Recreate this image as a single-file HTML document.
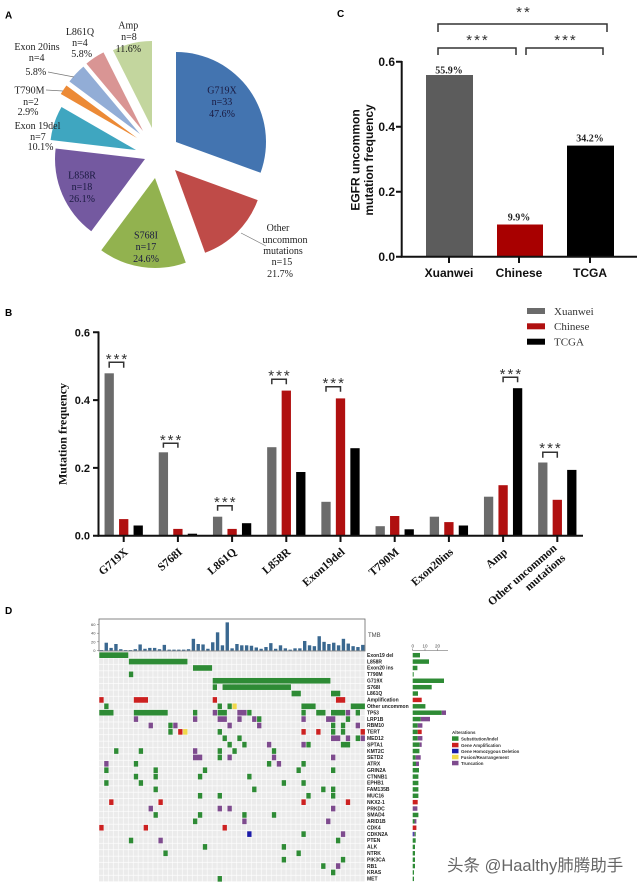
<!DOCTYPE html>
<html><head><meta charset="utf-8"><style>
html,body{margin:0;padding:0;background:#fff;}
svg{display:block;}
.sans{font-family:"Liberation Sans",sans-serif;}
.serif{font-family:"Liberation Serif",serif;}
.g{fill:#2e8b35}.r{fill:#cc2020}.p{fill:#7e4b8e}.y{fill:#f0d84a}.b{fill:#1b1ba8}
.rl{font-family:"Liberation Sans",sans-serif;font-size:5px;font-weight:bold;fill:#222;}
</style></head><body>
<svg width="640" height="886" viewBox="0 0 640 886" xmlns="http://www.w3.org/2000/svg">
<rect width="640" height="886" fill="#fff"/>

<!-- ============ PANEL A : PIE ============ -->
<text class="sans" x="5" y="18.5" font-size="10" font-weight="bold">A</text>
<path d="M176,142 L176,52 A90,90 0 0 1 260.57,172.78 Z" fill="#4374b0"/>
<path d="M175,170 L257.69,200.10 A88,88 0 0 1 205.10,252.69 Z" fill="#bf4b48"/>
<path d="M155,178 L185.78,262.57 A90,90 0 0 1 101.25,250.19 Z" fill="#92b24f"/>
<path d="M145,159 L91.25,231.19 A90,90 0 0 1 55.61,148.55 Z" fill="#7459a0"/>
<path d="M136,150 L50.6,140 A86,86 0 0 1 61.5,107 Z" fill="#3fa6c0"/>
<path d="M137,138 L60.79,94 A88,88 0 0 1 66.42,85.45 Z" fill="#ec8a36"/>
<path d="M140,134 L69.42,81.45 A88,88 0 0 1 83.43,66.59 Z" fill="#92add6"/>
<path d="M143,131 L86.43,63.59 A88,88 0 0 1 103.51,52.36 Z" fill="#d99594"/>
<path d="M152,128 L112.95,50.26 A87,87 0 0 1 152,41 Z" fill="#c3d69e"/>
<line x1="46" y1="90" x2="63" y2="91" stroke="#777" stroke-width="0.7"/>
<line x1="48" y1="72" x2="74" y2="77" stroke="#777" stroke-width="0.7"/>
<line x1="241" y1="233" x2="266" y2="246" stroke="#777" stroke-width="0.7"/>
<g class="serif" font-size="10" text-anchor="middle" fill="#1a1a40">
<text x="222" y="93.5">G719X</text><text x="222" y="105.2">n=33</text><text x="222" y="116.8">47.6%</text>
<text x="146" y="238.5">S768I</text><text x="146" y="250.2">n=17</text><text x="146" y="261.8">24.6%</text>
<text x="82" y="178.5">L858R</text><text x="82" y="190.2">n=18</text><text x="82" y="201.8">26.1%</text>
</g>
<g class="serif" font-size="10" text-anchor="middle" fill="#222">
<text x="278" y="231.2">Other</text><text x="285" y="242.8">uncommon</text><text x="283" y="254.2">mutations</text><text x="282" y="265.2">n=15</text><text x="280" y="276.8">21.7%</text>
<text x="37.5" y="129.2">Exon 19del</text><text x="38" y="140.2">n=7</text><text x="40.5" y="150.2">10.1%</text>
<text x="29.5" y="93.5">T790M</text><text x="31" y="105.2">n=2</text><text x="28" y="115.2">2.9%</text>
<text x="37" y="50.2">Exon 20ins</text><text x="36.7" y="60.8">n=4</text><text x="35.8" y="75.2">5.8%</text>
<text x="80" y="35.2">L861Q</text><text x="80" y="46.2">n=4</text><text x="81.7" y="56.8">5.8%</text>
<text x="128.3" y="28.5">Amp</text><text x="129" y="40.2">n=8</text><text x="128.3" y="51.8">11.6%</text>
</g>

<!-- ============ PANEL C ============ -->
<text class="sans" x="337" y="17" font-size="10" font-weight="bold">C</text>
<g fill="none" stroke="#333" stroke-width="1.5">
<path d="M438,32 V24 H607 V32"/>
<path d="M438,55 V48 H516 V55"/>
<path d="M526,55 V48 H603 V55"/>
</g>
<g class="sans" font-size="15" text-anchor="middle" fill="#333" letter-spacing="2">
<text x="524" y="16.8">**</text>
<text x="478" y="44.8">***</text>
<text x="566" y="44.8">***</text>
</g>
<rect x="426" y="75" width="47" height="181.7" fill="#5c5c5c"/>
<rect x="497" y="224.5" width="46" height="32.2" fill="#a80000"/>
<rect x="567" y="145.6" width="47" height="111.1" fill="#000"/>
<g stroke="#111" stroke-width="2" fill="none">
<path d="M401.7,61 V257.5"/>
<path d="M400.7,256.7 H637"/>
<path d="M396,61.7 H402 M396,126.7 H402 M396,191.7 H402 M396,256.7 H402"/>
<path d="M449,256.7 V263 M519,256.7 V263 M590,256.7 V263"/>
</g>
<g class="sans" font-size="12" font-weight="bold" text-anchor="end" fill="#111">
<text x="395" y="66">0.6</text><text x="395" y="131">0.4</text><text x="395" y="196">0.2</text><text x="395" y="261">0.0</text>
</g>
<g class="sans" font-size="12" font-weight="bold" text-anchor="middle" fill="#111">
<text x="449" y="277">Xuanwei</text><text x="519" y="277">Chinese</text><text x="590" y="277">TCGA</text>
<text transform="translate(359.5,160) rotate(-90)">EGFR uncommon</text>
<text transform="translate(373,160) rotate(-90)">mutation frequency</text>
</g>
<g class="serif" font-size="10" font-weight="bold" text-anchor="middle" fill="#222">
<text x="449" y="73.5">55.9%</text><text x="519" y="220.5">9.9%</text><text x="590" y="141.5">34.2%</text>
</g>

<!-- ============ PANEL B ============ -->
<text class="sans" x="5" y="316" font-size="10" font-weight="bold">B</text>
<rect x="527" y="308" width="18" height="6" fill="#6b6b6b"/>
<rect x="527" y="323.3" width="18" height="6" fill="#b01010"/>
<rect x="527" y="338.7" width="18" height="6" fill="#000"/>
<g class="serif" font-size="11" fill="#333">
<text x="554" y="314.8">Xuanwei</text><text x="554" y="330.1">Chinese</text><text x="554" y="345.5">TCGA</text>
</g>
<g fill="#6b6b6b">
<rect x="104.55" y="373.3" width="9.3" height="162.4"/>
<rect x="158.75" y="452.3" width="9.3" height="83.4"/>
<rect x="212.95" y="516.7" width="9.3" height="19"/>
<rect x="267.15" y="447.2" width="9.3" height="88.5"/>
<rect x="321.35" y="501.8" width="9.3" height="33.9"/>
<rect x="375.55" y="526.2" width="9.3" height="9.5"/>
<rect x="429.75" y="516.7" width="9.3" height="19"/>
<rect x="483.95" y="496.7" width="9.3" height="39"/>
<rect x="538.15" y="462.5" width="9.3" height="73.2"/>
</g>
<g fill="#b01010">
<rect x="119.05" y="519.1" width="9.3" height="16.6"/>
<rect x="173.25" y="528.9" width="9.3" height="6.8"/>
<rect x="227.45" y="528.9" width="9.3" height="6.8"/>
<rect x="281.65" y="390.6" width="9.3" height="145.1"/>
<rect x="335.85" y="398.4" width="9.3" height="137.3"/>
<rect x="390.05" y="516" width="9.3" height="19.7"/>
<rect x="444.25" y="522.1" width="9.3" height="13.6"/>
<rect x="498.45" y="485.2" width="9.3" height="50.5"/>
<rect x="552.65" y="499.8" width="9.3" height="35.9"/>
</g>
<g fill="#000">
<rect x="133.55" y="525.5" width="9.3" height="10.2"/>
<rect x="187.75" y="533.7" width="9.3" height="2"/>
<rect x="241.95" y="523.2" width="9.3" height="12.5"/>
<rect x="296.15" y="472" width="9.3" height="63.7"/>
<rect x="350.35" y="448.2" width="9.3" height="87.5"/>
<rect x="404.55" y="529.3" width="9.3" height="6.4"/>
<rect x="458.75" y="525.5" width="9.3" height="10.2"/>
<rect x="512.95" y="388.2" width="9.3" height="147.5"/>
<rect x="567.15" y="469.9" width="9.3" height="65.8"/>
</g>
<g stroke="#111" stroke-width="2" fill="none">
<path d="M98.5,331.5 V536.5"/>
<path d="M97.5,535.7 H583"/>
<path d="M93,332.3 H99 M93,400.1 H99 M93,467.9 H99 M93,535.7 H99"/>
<path d="M123.7,535.7 V542 M177.9,535.7 V542 M232.1,535.7 V542 M286.3,535.7 V542 M340.5,535.7 V542 M394.7,535.7 V542 M448.9,535.7 V542 M503.1,535.7 V542 M557.3,535.7 V542"/>
</g>
<g fill="none" stroke="#333" stroke-width="1.5">
<path d="M109.2,367.7 V362.3 H123.7 V367.7"/>
<path d="M163.4,447.7 V443.3 H177.9 V447.7"/>
<path d="M217.6,510.7 V505.7 H232.1 V510.7"/>
<path d="M271.8,384.3 V379.3 H286.3 V384.3"/>
<path d="M326,391.7 V386.7 H340.5 V391.7"/>
<path d="M503.1,382.3 V377.3 H517.6 V382.3"/>
<path d="M542.8,457.7 V452.3 H557.3 V457.7"/>
</g>
<g class="sans" font-size="15" text-anchor="middle" fill="#333" letter-spacing="2">
<text x="117.5" y="363.8">***</text>
<text x="171.6" y="444.8">***</text>
<text x="225.8" y="506.8">***</text>
<text x="280" y="380.5">***</text>
<text x="334.2" y="387.8">***</text>
<text x="511.4" y="378.8">***</text>
<text x="551" y="453.1">***</text>
</g>
<g class="sans" font-size="11" font-weight="bold" text-anchor="end" fill="#111">
<text x="90" y="336.3">0.6</text><text x="90" y="404.1">0.4</text><text x="90" y="471.9">0.2</text><text x="90" y="539.7">0.0</text>
</g>
<text class="serif" font-size="12" font-weight="bold" text-anchor="middle" fill="#111" transform="translate(66.5,434) rotate(-90)">Mutation frequency</text>
<g class="serif" font-size="11.5" font-weight="bold" text-anchor="end" fill="#111">
<text transform="translate(128.7,553) rotate(-41)">G719X</text>
<text transform="translate(182.9,553) rotate(-41)">S768I</text>
<text transform="translate(237.1,553) rotate(-41)">L861Q</text>
<text transform="translate(291.3,553) rotate(-41)">L858R</text>
<text transform="translate(345.5,553) rotate(-41)">Exon19del</text>
<text transform="translate(399.7,553) rotate(-41)">T790M</text>
<text transform="translate(453.9,553) rotate(-41)">Exon20ins</text>
<text transform="translate(508.1,553) rotate(-41)">Amp</text>
<text transform="translate(557.5,549) rotate(-41)">Other uncommon</text>
<text transform="translate(566,559) rotate(-41)">mutations</text>
</g>

<!-- ============ PANEL D ============ -->
<text class="sans" x="5" y="614" font-size="10" font-weight="bold">D</text>
<rect x="99" y="619" width="266" height="32" fill="none" stroke="#666" stroke-width="0.8"/>
<g class="sans" font-size="4" text-anchor="end" fill="#444">
<text x="95.5" y="626">60</text><text x="95.5" y="634.7">40</text><text x="95.5" y="643.3">20</text><text x="95.5" y="652">0</text>
</g>
<path d="M97,624.5 H99 M97,633.2 H99 M97,641.8 H99 M97,650.5 H99" stroke="#666" stroke-width="0.5"/>
<text class="sans" x="368" y="637" font-size="6" fill="#444">TMB</text>
<g transform="translate(99,650.5) scale(4.84,-0.433)" fill="#3a6890">
<rect x="0.15" width="0.7" height="1"/><rect x="1.15" width="0.7" height="18"/><rect x="2.15" width="0.7" height="6"/><rect x="3.15" width="0.7" height="15"/><rect x="4.15" width="0.7" height="3"/><rect x="5.15" width="0.7" height="1"/><rect x="6.15" width="0.7" height="1"/><rect x="7.15" width="0.7" height="3"/><rect x="8.15" width="0.7" height="14"/><rect x="9.15" width="0.7" height="4"/><rect x="10.15" width="0.7" height="6"/><rect x="11.15" width="0.7" height="6"/><rect x="12.15" width="0.7" height="3"/><rect x="13.15" width="0.7" height="13"/><rect x="14.15" width="0.7" height="2"/><rect x="15.15" width="0.7" height="2"/><rect x="16.15" width="0.7" height="2"/><rect x="17.15" width="0.7" height="2"/><rect x="18.15" width="0.7" height="3"/><rect x="19.15" width="0.7" height="27"/><rect x="20.15" width="0.7" height="15"/><rect x="21.15" width="0.7" height="14"/><rect x="22.15" width="0.7" height="4"/><rect x="23.15" width="0.7" height="19"/><rect x="24.15" width="0.7" height="42"/><rect x="25.15" width="0.7" height="12"/><rect x="26.15" width="0.7" height="65"/><rect x="27.15" width="0.7" height="5"/><rect x="28.15" width="0.7" height="15"/><rect x="29.15" width="0.7" height="12"/><rect x="30.15" width="0.7" height="12"/><rect x="31.15" width="0.7" height="11"/><rect x="32.15" width="0.7" height="7"/><rect x="33.15" width="0.7" height="4"/><rect x="34.15" width="0.7" height="8"/><rect x="35.15" width="0.7" height="17"/><rect x="36.15" width="0.7" height="4"/><rect x="37.15" width="0.7" height="12"/><rect x="38.15" width="0.7" height="5"/><rect x="39.15" width="0.7" height="2"/><rect x="40.15" width="0.7" height="5"/><rect x="41.15" width="0.7" height="5"/><rect x="42.15" width="0.7" height="22"/><rect x="43.15" width="0.7" height="12"/><rect x="44.15" width="0.7" height="10"/><rect x="45.15" width="0.7" height="33"/><rect x="46.15" width="0.7" height="20"/><rect x="47.15" width="0.7" height="15"/><rect x="48.15" width="0.7" height="18"/><rect x="49.15" width="0.7" height="12"/><rect x="50.15" width="0.7" height="27"/><rect x="51.15" width="0.7" height="16"/><rect x="52.15" width="0.7" height="10"/><rect x="53.15" width="0.7" height="8"/><rect x="54.15" width="0.7" height="13"/>
</g>
<defs>
<pattern id="gp" x="99" y="652" width="4.93" height="6.39" patternUnits="userSpaceOnUse">
<rect width="4.35" height="5.75" fill="#ebebeb"/>
</pattern>
</defs>
<rect x="99" y="652" width="266" height="230" fill="url(#gp)"/>
<g transform="translate(99,652) scale(4.93,6.39)">
<g transform="translate(0,0)"><rect class="g" x="0.06" y=".06" width="5.88" height=".88"/></g>
<g transform="translate(0,1)"><rect class="g" x="6.06" y=".06" width="11.88" height=".88"/></g>
<g transform="translate(0,2)"><rect class="g" x="19.06" y=".06" width="3.88" height=".88"/></g>
<g transform="translate(0,3)"><rect class="g" x="6.06" y=".06" width=".88" height=".88"/></g>
<g transform="translate(0,4)"><rect class="g" x="23.06" y=".06" width="23.88" height=".88"/></g>
<g transform="translate(0,5)"><rect class="g" x="23.06" y=".06" width=".88" height=".88"/><rect class="g" x="25.06" y=".06" width="13.88" height=".88"/></g>
<g transform="translate(0,6)"><rect class="g" x="39.06" y=".06" width="1.88" height=".88"/><rect class="g" x="47.06" y=".06" width="1.88" height=".88"/></g>
<g transform="translate(0,7)"><rect class="r" x="0.06" y=".06" width=".88" height=".88"/><rect class="r" x="7.06" y=".06" width="2.88" height=".88"/><rect class="r" x="23.06" y=".06" width=".88" height=".88"/><rect class="r" x="48.06" y=".06" width="1.88" height=".88"/></g>
<g transform="translate(0,8)"><rect class="g" x="1.06" y=".06" width=".88" height=".88"/><rect class="g" x="24.06" y=".06" width=".88" height=".88"/><rect class="g" x="26.06" y=".06" width=".88" height=".88"/><rect class="y" x="27.06" y=".06" width=".88" height=".88"/><rect class="g" x="41.06" y=".06" width="2.88" height=".88"/><rect class="g" x="51.06" y=".06" width="2.88" height=".88"/></g>
<g transform="translate(0,9)"><rect class="g" x="0.06" y=".06" width="2.88" height=".88"/><rect class="g" x="7.06" y=".06" width="6.88" height=".88"/><rect class="g" x="19.06" y=".06" width=".88" height=".88"/><rect class="p" x="23.06" y=".06" width=".88" height=".88"/><rect class="g" x="24.06" y=".06" width="1.88" height=".88"/><rect class="p" x="28.06" y=".06" width="1.88" height=".88"/><rect class="g" x="30.06" y=".06" width=".88" height=".88"/><rect class="g" x="41.06" y=".06" width=".88" height=".88"/><rect class="g" x="44.06" y=".06" width="1.88" height=".88"/><rect class="g" x="47.06" y=".06" width="2.88" height=".88"/><rect class="p" x="50.06" y=".06" width=".88" height=".88"/><rect class="g" x="52.06" y=".06" width=".88" height=".88"/></g>
<g transform="translate(0,10)"><rect class="p" x="7.06" y=".06" width=".88" height=".88"/><rect class="p" x="19.06" y=".06" width=".88" height=".88"/><rect class="p" x="24.06" y=".06" width="1.88" height=".88"/><rect class="p" x="28.06" y=".06" width=".88" height=".88"/><rect class="p" x="31.06" y=".06" width=".88" height=".88"/><rect class="g" x="32.06" y=".06" width=".88" height=".88"/><rect class="p" x="41.06" y=".06" width=".88" height=".88"/><rect class="p" x="46.06" y=".06" width="1.88" height=".88"/><rect class="g" x="50.06" y=".06" width=".88" height=".88"/></g>
<g transform="translate(0,11)"><rect class="p" x="10.06" y=".06" width=".88" height=".88"/><rect class="g" x="14.06" y=".06" width=".88" height=".88"/><rect class="p" x="15.06" y=".06" width=".88" height=".88"/><rect class="p" x="26.06" y=".06" width=".88" height=".88"/><rect class="p" x="32.06" y=".06" width=".88" height=".88"/><rect class="g" x="47.06" y=".06" width=".88" height=".88"/><rect class="g" x="49.06" y=".06" width=".88" height=".88"/><rect class="p" x="52.06" y=".06" width=".88" height=".88"/></g>
<g transform="translate(0,12)"><rect class="g" x="14.06" y=".06" width=".88" height=".88"/><rect class="r" x="16.06" y=".06" width=".88" height=".88"/><rect class="y" x="17.06" y=".06" width=".88" height=".88"/><rect class="g" x="24.06" y=".06" width=".88" height=".88"/><rect class="r" x="41.06" y=".06" width=".88" height=".88"/><rect class="r" x="44.06" y=".06" width=".88" height=".88"/><rect class="g" x="47.06" y=".06" width=".88" height=".88"/><rect class="g" x="49.06" y=".06" width=".88" height=".88"/><rect class="r" x="53.06" y=".06" width=".88" height=".88"/></g>
<g transform="translate(0,13)"><rect class="g" x="25.06" y=".06" width=".88" height=".88"/><rect class="g" x="28.06" y=".06" width=".88" height=".88"/><rect class="p" x="47.06" y=".06" width="1.88" height=".88"/><rect class="p" x="50.06" y=".06" width=".88" height=".88"/><rect class="g" x="52.06" y=".06" width=".88" height=".88"/><rect class="p" x="53.06" y=".06" width=".88" height=".88"/></g>
<g transform="translate(0,14)"><rect class="g" x="26.06" y=".06" width=".88" height=".88"/><rect class="g" x="29.06" y=".06" width=".88" height=".88"/><rect class="p" x="34.06" y=".06" width=".88" height=".88"/><rect class="p" x="41.06" y=".06" width=".88" height=".88"/><rect class="g" x="42.06" y=".06" width=".88" height=".88"/><rect class="g" x="49.06" y=".06" width="1.88" height=".88"/></g>
<g transform="translate(0,15)"><rect class="g" x="3.06" y=".06" width=".88" height=".88"/><rect class="g" x="8.06" y=".06" width=".88" height=".88"/><rect class="p" x="19.06" y=".06" width=".88" height=".88"/><rect class="g" x="24.06" y=".06" width=".88" height=".88"/><rect class="g" x="27.06" y=".06" width=".88" height=".88"/><rect class="g" x="35.06" y=".06" width=".88" height=".88"/></g>
<g transform="translate(0,16)"><rect class="p" x="19.06" y=".06" width="1.88" height=".88"/><rect class="g" x="24.06" y=".06" width=".88" height=".88"/><rect class="p" x="26.06" y=".06" width=".88" height=".88"/><rect class="p" x="35.06" y=".06" width=".88" height=".88"/><rect class="p" x="47.06" y=".06" width=".88" height=".88"/></g>
<g transform="translate(0,17)"><rect class="p" x="1.06" y=".06" width=".88" height=".88"/><rect class="g" x="7.06" y=".06" width=".88" height=".88"/><rect class="g" x="34.06" y=".06" width=".88" height=".88"/><rect class="p" x="36.06" y=".06" width=".88" height=".88"/><rect class="g" x="41.06" y=".06" width=".88" height=".88"/></g>
<g transform="translate(0,18)"><rect class="g" x="1.06" y=".06" width=".88" height=".88"/><rect class="g" x="11.06" y=".06" width=".88" height=".88"/><rect class="g" x="21.06" y=".06" width=".88" height=".88"/><rect class="g" x="40.06" y=".06" width=".88" height=".88"/><rect class="g" x="47.06" y=".06" width=".88" height=".88"/></g>
<g transform="translate(0,19)"><rect class="g" x="7.06" y=".06" width=".88" height=".88"/><rect class="g" x="11.06" y=".06" width=".88" height=".88"/><rect class="g" x="20.06" y=".06" width=".88" height=".88"/><rect class="g" x="30.06" y=".06" width=".88" height=".88"/></g>
<g transform="translate(0,20)"><rect class="g" x="1.06" y=".06" width=".88" height=".88"/><rect class="g" x="8.06" y=".06" width=".88" height=".88"/><rect class="g" x="37.06" y=".06" width=".88" height=".88"/><rect class="g" x="41.06" y=".06" width=".88" height=".88"/></g>
<g transform="translate(0,21)"><rect class="g" x="11.06" y=".06" width=".88" height=".88"/><rect class="g" x="31.06" y=".06" width=".88" height=".88"/><rect class="g" x="45.06" y=".06" width=".88" height=".88"/><rect class="g" x="47.06" y=".06" width=".88" height=".88"/></g>
<g transform="translate(0,22)"><rect class="g" x="20.06" y=".06" width=".88" height=".88"/><rect class="g" x="24.06" y=".06" width=".88" height=".88"/><rect class="g" x="42.06" y=".06" width=".88" height=".88"/><rect class="g" x="47.06" y=".06" width=".88" height=".88"/></g>
<g transform="translate(0,23)"><rect class="r" x="2.06" y=".06" width=".88" height=".88"/><rect class="r" x="12.06" y=".06" width=".88" height=".88"/><rect class="r" x="41.06" y=".06" width=".88" height=".88"/><rect class="r" x="50.06" y=".06" width=".88" height=".88"/></g>
<g transform="translate(0,24)"><rect class="p" x="10.06" y=".06" width=".88" height=".88"/><rect class="p" x="24.06" y=".06" width=".88" height=".88"/><rect class="p" x="26.06" y=".06" width=".88" height=".88"/><rect class="p" x="47.06" y=".06" width=".88" height=".88"/></g>
<g transform="translate(0,25)"><rect class="g" x="11.06" y=".06" width=".88" height=".88"/><rect class="g" x="20.06" y=".06" width=".88" height=".88"/><rect class="g" x="29.06" y=".06" width=".88" height=".88"/><rect class="g" x="35.06" y=".06" width=".88" height=".88"/></g>
<g transform="translate(0,26)"><rect class="g" x="19.06" y=".06" width=".88" height=".88"/><rect class="p" x="29.06" y=".06" width=".88" height=".88"/><rect class="p" x="46.06" y=".06" width=".88" height=".88"/></g>
<g transform="translate(0,27)"><rect class="r" x="0.06" y=".06" width=".88" height=".88"/><rect class="r" x="9.06" y=".06" width=".88" height=".88"/><rect class="r" x="25.06" y=".06" width=".88" height=".88"/></g>
<g transform="translate(0,28)"><rect class="b" x="30.06" y=".06" width=".88" height=".88"/><rect class="g" x="41.06" y=".06" width=".88" height=".88"/><rect class="p" x="49.06" y=".06" width=".88" height=".88"/></g>
<g transform="translate(0,29)"><rect class="g" x="6.06" y=".06" width=".88" height=".88"/><rect class="p" x="12.06" y=".06" width=".88" height=".88"/><rect class="g" x="48.06" y=".06" width=".88" height=".88"/></g>
<g transform="translate(0,30)"><rect class="g" x="21.06" y=".06" width=".88" height=".88"/><rect class="g" x="37.06" y=".06" width=".88" height=".88"/></g>
<g transform="translate(0,31)"><rect class="g" x="13.06" y=".06" width=".88" height=".88"/><rect class="g" x="40.06" y=".06" width=".88" height=".88"/></g>
<g transform="translate(0,32)"><rect class="g" x="37.06" y=".06" width=".88" height=".88"/><rect class="g" x="49.06" y=".06" width=".88" height=".88"/></g>
<g transform="translate(0,33)"><rect class="g" x="45.06" y=".06" width=".88" height=".88"/><rect class="p" x="48.06" y=".06" width=".88" height=".88"/></g>
<g transform="translate(0,34)"><rect class="g" x="47.06" y=".06" width=".88" height=".88"/></g>
<g transform="translate(0,35)"><rect class="g" x="24.06" y=".06" width=".88" height=".88"/></g>
</g>
<g>
<text class="rl" x="367" y="656.9">Exon19 del</text>
<text class="rl" x="367" y="663.3">L858R</text>
<text class="rl" x="367" y="669.7">Exon20 ins</text>
<text class="rl" x="367" y="676.1">T790M</text>
<text class="rl" x="367" y="682.5">G719X</text>
<text class="rl" x="367" y="688.9">S768I</text>
<text class="rl" x="367" y="695.2">L861Q</text>
<text class="rl" x="367" y="701.6">Amplification</text>
<text class="rl" x="367" y="708.0">Other uncommon</text>
<text class="rl" x="367" y="714.4">TP53</text>
<text class="rl" x="367" y="720.8">LRP1B</text>
<text class="rl" x="367" y="727.2">RBM10</text>
<text class="rl" x="367" y="733.6">TERT</text>
<text class="rl" x="367" y="740.0">MED12</text>
<text class="rl" x="367" y="746.4">SPTA1</text>
<text class="rl" x="367" y="752.8">KMT2C</text>
<text class="rl" x="367" y="759.1">SETD2</text>
<text class="rl" x="367" y="765.5">ATRX</text>
<text class="rl" x="367" y="771.9">GRIN2A</text>
<text class="rl" x="367" y="778.3">CTNNB1</text>
<text class="rl" x="367" y="784.7">EPHB1</text>
<text class="rl" x="367" y="791.1">FAM135B</text>
<text class="rl" x="367" y="797.5">MUC16</text>
<text class="rl" x="367" y="803.9">NKX2-1</text>
<text class="rl" x="367" y="810.3">PRKDC</text>
<text class="rl" x="367" y="816.7">SMAD4</text>
<text class="rl" x="367" y="823.0">ARID1B</text>
<text class="rl" x="367" y="829.4">CDK4</text>
<text class="rl" x="367" y="835.8">CDKN2A</text>
<text class="rl" x="367" y="842.2">PTEN</text>
<text class="rl" x="367" y="848.6">ALK</text>
<text class="rl" x="367" y="855.0">NTRK</text>
<text class="rl" x="367" y="861.4">PIK3CA</text>
<text class="rl" x="367" y="867.8">RB1</text>
<text class="rl" x="367" y="874.2">KRAS</text>
<text class="rl" x="367" y="880.6">MET</text>
</g>
<path d="M412.5,650.5 H448 M412.7,650.5 V648.5 M425,650.5 V648.5 M437.5,650.5 V648.5" stroke="#555" stroke-width="0.5" fill="none"/>
<g class="sans" font-size="4.5" text-anchor="middle" fill="#444">
<text x="412.7" y="647.5">0</text><text x="425" y="647.5">10</text><text x="437.5" y="647.5">20</text>
</g>
<g transform="translate(412.7,652) scale(1,6.39)">
<rect class="g" x="0" y="0.15" width="7.3" height="0.7"/>
<rect class="g" x="0" y="1.15" width="16.3" height="0.7"/>
<rect class="g" x="0" y="2.15" width="4.7" height="0.7"/>
<rect class="g" x="0" y="3.15" width="1" height="0.7"/>
<rect class="g" x="0" y="4.15" width="31.3" height="0.7"/>
<rect class="g" x="0" y="5.15" width="19" height="0.7"/>
<rect class="g" x="0" y="6.15" width="5.3" height="0.7"/>
<rect class="r" x="0" y="7.15" width="9" height="0.7"/>
<rect class="g" x="0" y="8.15" width="12.7" height="0.7"/>
<rect class="g" x="0" y="9.15" width="29" height="0.7"/><rect class="p" x="29" y="9.15" width="4.3" height="0.7"/>
<rect class="g" x="0" y="10.15" width="8" height="0.7"/><rect class="p" x="8" y="10.15" width="9.3" height="0.7"/>
<rect class="g" x="0" y="11.15" width="5" height="0.7"/><rect class="p" x="5" y="11.15" width="4.7" height="0.7"/>
<rect class="g" x="0" y="12.15" width="5" height="0.7"/><rect class="r" x="5" y="12.15" width="4" height="0.7"/>
<rect class="g" x="0" y="13.15" width="5" height="0.7"/><rect class="p" x="5" y="13.15" width="4.7" height="0.7"/>
<rect class="g" x="0" y="14.15" width="7" height="0.7"/><rect class="p" x="7" y="14.15" width="2" height="0.7"/>
<rect class="g" x="0" y="15.15" width="6.7" height="0.7"/>
<rect class="g" x="0" y="16.15" width="3" height="0.7"/><rect class="p" x="3" y="16.15" width="5" height="0.7"/>
<rect class="g" x="0" y="17.15" width="3.3" height="0.7"/><rect class="p" x="3.3" y="17.15" width="3" height="0.7"/>
<rect class="g" x="0" y="18.15" width="6.3" height="0.7"/>
<rect class="g" x="0" y="19.15" width="5.7" height="0.7"/>
<rect class="g" x="0" y="20.15" width="5.7" height="0.7"/>
<rect class="g" x="0" y="21.15" width="5.7" height="0.7"/>
<rect class="g" x="0" y="22.15" width="5.7" height="0.7"/>
<rect class="r" x="0" y="23.15" width="5" height="0.7"/>
<rect class="p" x="0" y="24.15" width="4.7" height="0.7"/>
<rect class="g" x="0" y="25.15" width="5.7" height="0.7"/>
<rect class="g" x="0" y="26.15" width="1.8" height="0.7"/><rect class="p" x="1.8" y="26.15" width="1.9" height="0.7"/>
<rect class="r" x="0" y="27.15" width="3.7" height="0.7"/>
<rect class="b" x="0" y="28.15" width="1" height="0.7"/><rect class="p" x="1" y="28.15" width="1" height="0.7"/><rect class="g" x="2" y="28.15" width="1" height="0.7"/>
<rect class="g" x="0" y="29.15" width="3" height="0.7"/>
<rect class="g" x="0" y="30.15" width="2.3" height="0.7"/>
<rect class="g" x="0" y="31.15" width="2.3" height="0.7"/>
<rect class="g" x="0" y="32.15" width="2.3" height="0.7"/>
<rect class="g" x="0" y="33.15" width="2.3" height="0.7"/>
<rect class="g" x="0" y="34.15" width="1.3" height="0.7"/>
<rect class="g" x="0" y="35.15" width="1.3" height="0.7"/>
</g>
<text class="sans" x="452" y="734" font-size="4.5" font-weight="bold" fill="#333">Alterations</text>
<rect class="g" x="452" y="736.3" width="6.5" height="4.5"/>
<rect class="r" x="452" y="742.8" width="6.5" height="4.5"/>
<rect class="b" x="452" y="748.8" width="6.5" height="4.5"/>
<rect class="y" x="452" y="754.8" width="6.5" height="4.5"/>
<rect class="p" x="452" y="760.8" width="6.5" height="4.5"/>
<g class="sans" font-size="4.4" font-weight="bold" fill="#333">
<text x="461" y="740.3">Substitution/Indel</text>
<text x="461" y="746.8">Gene Amplification</text>
<text x="461" y="752.8">Gene Homozygous Deletion</text>
<text x="461" y="758.8">Fusion/Rearrangement</text>
<text x="461" y="764.8">Truncation</text>
</g>
<text x="447" y="871" font-size="16.5" fill="#666" font-family="'Liberation Sans','Noto Sans CJK SC',sans-serif">头条 @Haalthy肺腾助手</text>
</svg>
</body></html>
